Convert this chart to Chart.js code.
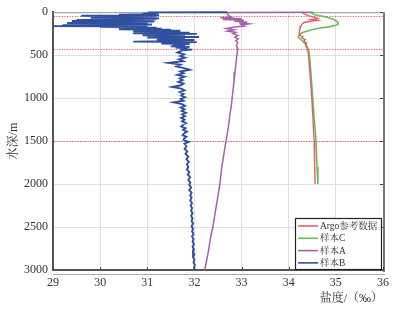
<!DOCTYPE html>
<html><head><meta charset="utf-8">
<script src="https://cdn.jsdelivr.net/npm/chart.js@4.4.1/dist/chart.umd.min.js"></script>
<style>html,body{margin:0;padding:0;background:#fff;}#wrap{width:418px;height:317px;}</style>
</head><body><div id="wrap"><canvas id="c" width="418" height="317"></canvas></div>
<script>
// ---- data ----
const seriesNames = ['Argo参考数据', '样本C', '样本A', '样本B'];
const xTickValues = [29, 30, 31, 32, 33, 34, 35, 36];
const yTickValues = [0, 500, 1000, 1500, 2000, 2500, 3000];
const refDepths = [45, 430, 1500];

const depthArgo = [0, 10, 25, 40, 60, 75, 85, 95, 105, 120, 140, 160, 185, 210, 240, 265, 285, 300, 320, 340, 360, 390, 430, 500, 700, 1000, 1300, 1500, 1800, 2000];
const salArgo   = [34.28, 34.30, 34.36, 34.42, 34.55, 34.62, 34.48, 34.60, 34.45, 34.33, 34.28, 34.26, 34.24, 34.23, 34.22, 34.23, 34.30, 34.28, 34.35, 34.32, 34.38, 34.36, 34.40, 34.42, 34.45, 34.49, 34.52, 34.54, 34.55, 34.56];

const depthC = [0, 10, 30, 50, 60, 70, 85, 100, 120, 145, 165, 180, 195, 215, 240, 265, 290, 315, 350, 390, 440, 500, 700, 1000, 1300, 1500, 1800, 2000];
const salC   = [34.45, 34.48, 34.55, 34.75, 34.82, 34.88, 34.95, 35.00, 35.05, 35.04, 34.90, 34.72, 34.55, 34.42, 34.28, 34.22, 34.20, 34.25, 34.32, 34.38, 34.42, 34.44, 34.47, 34.51, 34.55, 34.58, 34.60, 34.62];

const depthA = [0, 3, 20, 40, 55, 65, 75, 85, 95, 105, 115, 125, 135, 145, 160, 175, 190, 205, 220, 235, 250, 270, 290, 310, 330, 360, 390, 430, 500, 600, 700, 800, 900, 1000, 1100, 1200, 1300, 1400, 1500, 1600, 1700, 1800, 1900, 2000, 2200, 2400, 2500, 2600, 2800, 3000];
const salA   = [34.52, 32.72, 32.70, 32.73, 32.78, 32.55, 33.00, 32.60, 33.05, 32.85, 33.12, 32.95, 33.15, 33.00, 33.06, 32.82, 32.68, 32.84, 32.70, 32.88, 32.82, 32.92, 32.86, 32.93, 32.88, 32.92, 32.89, 32.92, 32.90, 32.88, 32.86, 32.84, 32.82, 32.80, 32.78, 32.75, 32.73, 32.70, 32.67, 32.64, 32.61, 32.58, 32.56, 32.54, 32.48, 32.42, 32.39, 32.35, 32.29, 32.22];

const depthB = [0, 2, 12, 18, 24, 30, 36, 42, 48, 54, 60, 66, 72, 78, 84, 90, 96, 102, 108, 114, 120, 126, 132, 138, 144, 150, 156, 162, 168, 174, 180, 186, 192, 198, 204, 210, 216, 222, 228, 234, 240, 246, 252, 258, 264, 270, 276, 282, 288, 294, 300, 306, 312, 318, 324, 330, 336, 342, 348, 354, 360, 366, 372, 380, 388, 396, 404, 412, 420, 428, 436, 444,
  450, 470, 490, 510, 530, 550, 570, 590, 610, 630, 650, 670, 690, 710, 730, 750, 770, 790, 810, 830, 850, 870, 890, 910, 930, 950, 970, 990, 1010, 1030, 1050, 1070, 1090, 1110, 1130, 1150, 1170, 1190, 1210, 1230, 1250, 1270, 1290, 1310, 1330, 1350, 1370, 1390, 1410, 1430, 1450, 1470, 1490,
  1510, 1530, 1560, 1590, 1620, 1650, 1680, 1710, 1740, 1770, 1800, 1830, 1860, 1890, 1920, 1950, 1980, 2010, 2040, 2070, 2100, 2130, 2160, 2190, 2220, 2250, 2280, 2310, 2340, 2370, 2400, 2430, 2460, 2490, 2520, 2550, 2580, 2610, 2640, 2670, 2700, 2730, 2760, 2790, 2820, 2850, 2880, 2910, 2940, 2970, 3000];
const salB = [32.70, 31.10, 31.15, 30.90, 31.20, 30.40, 31.25, 29.60, 31.20, 30.20, 31.10, 29.80, 31.25, 30.10, 31.20, 29.50, 31.10, 29.40, 31.15, 29.80, 31.00, 29.30, 30.90, 29.60, 31.10, 29.20, 30.80, 29.00, 31.00, 30.00, 31.20, 30.60, 31.30, 30.40, 31.50, 30.80, 31.70, 30.70, 31.60, 31.10, 31.90, 30.70, 32.05, 31.20, 31.80, 30.90, 31.70, 31.30, 32.10, 31.00, 31.80, 31.30, 31.70, 31.20, 32.00, 31.40, 31.80, 30.70, 32.05, 31.50, 31.70, 31.30, 31.90, 31.55, 31.80, 31.50, 31.90, 31.60, 31.85, 31.70, 31.95, 31.75,
  31.72, 31.64, 31.78, 31.70, 31.80, 31.67, 31.76, 31.45, 31.70, 31.62, 31.78, 31.90, 31.70, 31.77, 31.64, 31.79, 31.69, 31.75, 31.66, 31.77, 31.71, 31.53, 31.72, 31.79, 31.69, 31.77, 31.72, 31.80, 31.71, 31.77, 31.56, 31.74, 31.80, 31.71, 31.79, 31.73, 31.82, 31.74, 31.80, 31.72, 31.79, 31.74, 31.82, 31.76, 31.72, 31.81, 31.76, 31.84, 31.78, 31.75, 31.83, 31.78, 31.77,
  31.88, 31.79, 31.83, 31.79, 31.85, 31.81, 31.87, 31.83, 31.88, 31.84, 31.87, 31.84, 31.89, 31.86, 31.91, 31.87, 31.91, 31.89, 31.93, 31.89, 31.94, 31.91, 31.94, 31.91, 31.95, 31.92, 31.95, 31.93, 31.96, 31.93, 31.96, 31.94, 31.97, 31.94, 31.97, 31.95, 31.98, 31.95, 31.98, 31.96, 31.99, 31.96, 31.99, 31.97, 32.00, 31.97, 32.00, 31.98, 32.01, 31.99, 32.01];

// ---- chart ----
const FONT = "'Liberation Serif', 'Noto Serif CJK SC', 'Noto Sans CJK SC', serif";
Chart.defaults.font.family = FONT;
Chart.defaults.color = '#333';

const pts = (d, s) => d.map((v, i) => ({ x: s[i], y: v }));
const colors = ['#e0606a', '#6cbd58', '#a65fa8', '#2f4f9f'];
const widths = [1.4, 1.6, 1.5, 1.9];
const datasets = [
  pts(depthArgo, salArgo), pts(depthC, salC), pts(depthA, salA), pts(depthB, salB)
].map((data, i) => ({
  label: seriesNames[i], data, showLine: true, pointRadius: 0, borderColor: colors[i],
  backgroundColor: colors[i], borderWidth: widths[i], fill: false, tension: 0, clip: 4
}));

const framePlugin = {
  id: 'frame',
  beforeDatasetsDraw(chart) {
    const { ctx, chartArea: a, scales: { x, y } } = chart;
    ctx.save();
    ctx.strokeStyle = '#9a9a9a'; ctx.lineWidth = 1;
    ctx.beginPath(); ctx.moveTo(a.left, a.top + 0.5); ctx.lineTo(a.right, a.top + 0.5); ctx.stroke();
    ctx.strokeStyle = '#f04848'; ctx.lineWidth = 1; ctx.setLineDash([1, 1.6]);
    refDepths.forEach(d => {
      const py = Math.round(y.getPixelForValue(d)) + 0.5;
      ctx.beginPath(); ctx.moveTo(Math.round(a.left) + 1, py); ctx.lineTo(a.right, py); ctx.stroke();
    });
    ctx.restore();
  },
  afterDraw(chart) {
    const { ctx, chartArea: a, scales: { x, y } } = chart;
    ctx.save();
    ctx.strokeStyle = '#777'; ctx.lineWidth = 2;
    ctx.beginPath(); ctx.moveTo(a.right + 1, a.top); ctx.lineTo(a.right + 1, a.bottom + 2); ctx.stroke();
    ctx.strokeStyle = '#444'; ctx.lineWidth = 1;
    xTickValues.forEach(v => {
      const px = Math.round(x.getPixelForValue(v)) + 0.5;
      ctx.beginPath(); ctx.moveTo(px, a.bottom); ctx.lineTo(px, a.bottom - 3); ctx.stroke();
    });
    yTickValues.forEach(v => {
      const py = Math.round(y.getPixelForValue(v)) + 0.5;
      ctx.beginPath(); ctx.moveTo(a.right, py); ctx.lineTo(a.right - 3, py); ctx.stroke();
    });
    ctx.strokeStyle = '#aaa';
    ctx.beginPath(); ctx.moveTo(a.left, a.bottom + 4.5); ctx.lineTo(a.right + 2, a.bottom + 4.5); ctx.stroke();
    // legend
    const lw = 86, lh = 51;
    const lx = a.right - lw - 2, ly = a.bottom - lh - 1;
    ctx.fillStyle = '#fff'; ctx.fillRect(lx, ly, lw, lh);
    ctx.strokeStyle = '#222'; ctx.lineWidth = 1.2;
    ctx.strokeRect(lx + 0.5, ly + 0.5, lw, lh);
    ctx.font = '9.5px ' + FONT; ctx.textBaseline = 'middle';
    chart.data.datasets.forEach((ds, i) => {
      const ry = ly + 8 + i * 12.3;
      ctx.strokeStyle = ds.borderColor; ctx.lineWidth = 1.6;
      ctx.beginPath(); ctx.moveTo(lx + 3, ry); ctx.lineTo(lx + 23, ry); ctx.stroke();
      ctx.fillStyle = '#333'; ctx.fillText(ds.label, lx + 25, ry + 0.5);
    });
    ctx.restore();
  }
};

new Chart(document.getElementById('c'), {
  type: 'scatter',
  data: { datasets },
  plugins: [framePlugin],
  options: {
    responsive: false, animation: false, devicePixelRatio: 1,
    layout: { padding: { top: 12, right: 35, left: 0, bottom: 0 } },
    plugins: { legend: { display: false }, tooltip: { enabled: false } },
    scales: {
      x: {
        type: 'linear', position: 'bottom', min: 29, max: 36,
        afterBuildTicks: s => { s.ticks = xTickValues.map(v => ({ value: v })); },
        afterFit: s => { s.height = 47; },
        grid: { color: '#dedede', drawTicks: false },
        border: { display: true, color: '#555', width: 2 },
        ticks: { padding: 6, font: { size: 12 }, color: '#333', maxRotation: 0, callback: v => String(v) },
        title: { display: true, text: '盐度/（‰）', align: 'end', font: { size: 12 }, color: '#333', padding: { top: 0, bottom: 11 } }
      },
      y: {
        type: 'linear', position: 'left', reverse: true, min: 0, max: 3000,
        afterBuildTicks: s => { s.ticks = yTickValues.map(v => ({ value: v })); },
        afterFit: s => { s.width = 53; },
        grid: { color: '#dedede', drawTicks: false },
        border: { display: true, color: '#555', width: 2 },
        ticks: { padding: 5, font: { size: 12 }, color: '#333', callback: v => String(v) },
        title: { display: true, text: '水深/m', font: { size: 12 }, color: '#333', padding: { top: 7, bottom: 0 } }
      }
    }
  }
});
</script></body></html>
